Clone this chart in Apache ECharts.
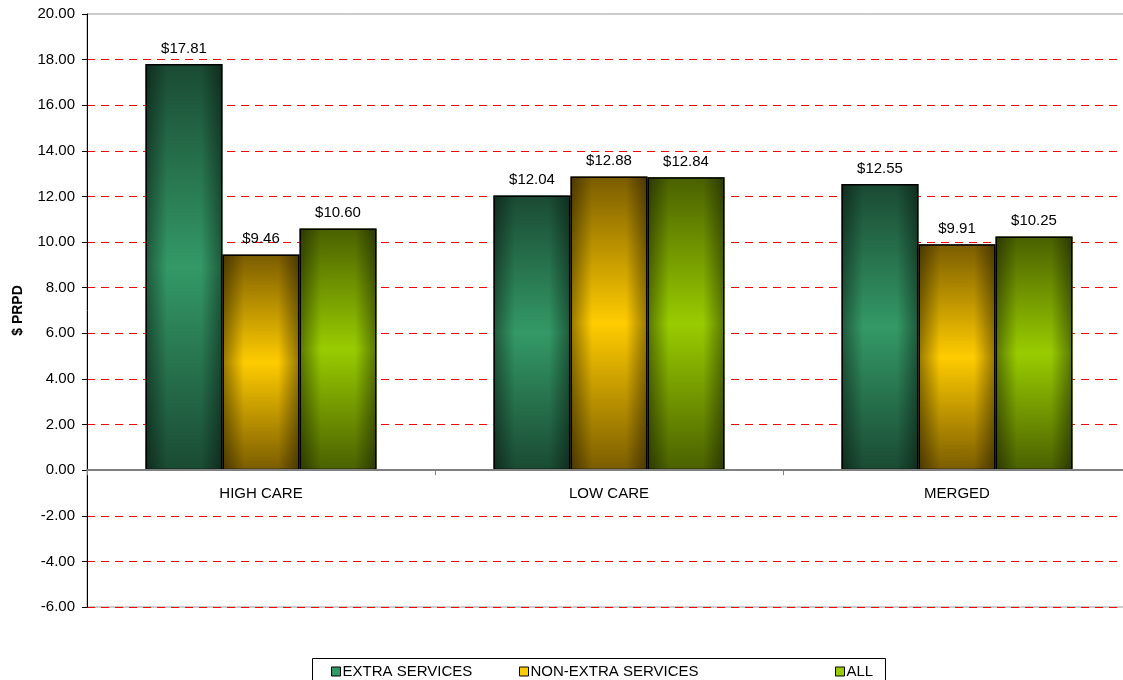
<!DOCTYPE html>
<html>
<head>
<meta charset="utf-8">
<title>$ PRPD by care type</title>
<script src="https://cdn.jsdelivr.net/npm/echarts@6/dist/echarts.min.js"></script>
<style>
  html, body { margin: 0; padding: 0; background: #fff; }
  #chart { width: 1123px; height: 680px; }
</style>
</head>
<body>
<div id="chart"></div>
<script>
// Care categories along the x axis
const categories = ['HIGH CARE', 'LOW CARE', 'MERGED'];

// Series names and values ($ per resident per day)
const seriesNames = ['EXTRA SERVICES', 'NON-EXTRA SERVICES', 'ALL'];
const extraServices = [17.81, 12.04, 12.55];
const nonExtraServices = [9.46, 12.88, 9.91];
const allServices = [10.60, 12.84, 10.25];

// Value axis range
const yMin = -6;
const yMax = 20;
const yStep = 2;

const seriesValues = [extraServices, nonExtraServices, allServices];

// Dark edge / bright centre colour pairs for each series
const palette = [
  { dark: '#1a4a33', light: '#339966' },
  { dark: '#7a5c00', light: '#ffcc00' },
  { dark: '#4a6000', light: '#99cc00' }
];

const font = 'Liberation Sans, Arial, sans-serif';
const fontSize = 15;

function verticalFill(p) {
  return new echarts.graphic.LinearGradient(0, 0, 0, 1, [
    { offset: 0, color: p.dark },
    { offset: 0.5, color: p.light },
    { offset: 1, color: p.dark }
  ]);
}

function sideShade() {
  return new echarts.graphic.LinearGradient(0, 0, 1, 0, [
    { offset: 0, color: 'rgba(0,0,0,0.42)' },
    { offset: 0.28, color: 'rgba(0,0,0,0)' },
    { offset: 0.72, color: 'rgba(0,0,0,0)' },
    { offset: 1, color: 'rgba(0,0,0,0.42)' }
  ]);
}

const barLayout = { barGap: '0%', barCategoryGap: '33.6%' };

// Base bars with value labels
const mainSeries = seriesValues.map((vals, i) => Object.assign({
  name: seriesNames[i],
  type: 'bar',
  xAxisIndex: 0,
  data: vals,
  z: 2,
  itemStyle: { color: verticalFill(palette[i]) },
  label: {
    show: true,
    position: 'top',
    distance: 8,
    color: '#000',
    fontFamily: font,
    fontSize: fontSize,
    formatter: p => '$' + p.value.toFixed(2)
  }
}, barLayout));

// Side shading drawn over the same bars on a twin category axis
const shadeSeries = seriesValues.map((vals, i) => Object.assign({
  name: seriesNames[i] + ' shade',
  type: 'bar',
  xAxisIndex: 1,
  data: vals,
  z: 3,
  silent: true,
  itemStyle: { color: sideShade(), borderColor: '#000', borderWidth: 1.5 }
}, barLayout));

const legendLefts = [326, 514, 830];
const legends = seriesNames.map((n, i) => ({
  data: [n],
  left: legendLefts[i],
  top: 659,
  orient: 'horizontal',
  itemWidth: 9,
  itemHeight: 9,
  icon: 'rect',
  itemStyle: { color: palette[i].light, borderColor: '#000', borderWidth: 1 },
  textStyle: { fontFamily: font, fontSize: fontSize, color: '#000', padding: [0, 0, 0, -3] },
  selectedMode: false
}));

const chart = echarts.init(document.getElementById('chart'), null, { renderer: 'canvas' });

chart.setOption({
  animation: false,
  backgroundColor: '#fff',
  grid: {
    left: 87,
    width: 1044,
    top: 14,
    height: 593,
    outerBoundsMode: 'none',
    show: true,
    borderColor: '#999',
    borderWidth: 1,
    backgroundColor: 'transparent'
  },
  legend: legends,
  graphic: [{
    type: 'rect',
    left: 310,
    top: 656,
    shape: { width: 573, height: 40 },
    style: { fill: 'none', stroke: '#000', lineWidth: 1 },
    z: 10
  }],
  xAxis: [{
    type: 'category',
    data: categories,
    axisLine: { onZero: true, lineStyle: { color: '#808080', width: 2 } },
    axisTick: { show: true, length: 5, lineStyle: { color: '#808080' } },
    // labels sit just below the zero line
    axisLabel: { color: '#000', fontFamily: font, fontSize: fontSize, margin: -121 },
    splitLine: { show: false },
    z: 5
  }, {
    type: 'category',
    data: categories,
    show: false
  }],
  yAxis: {
    type: 'value',
    min: yMin,
    max: yMax,
    interval: yStep,
    name: '$ PRPD',
    nameLocation: 'middle',
    nameGap: 62,
    nameTextStyle: { fontFamily: font, fontSize: 14, fontWeight: 'bold', color: '#000' },
    axisLine: { show: true, onZero: false, lineStyle: { color: '#000', width: 1 } },
    axisTick: { show: true, length: 5, lineStyle: { color: '#000' } },
    axisLabel: {
      color: '#000',
      fontFamily: font,
      fontSize: fontSize,
      margin: 12,
      formatter: v => v.toFixed(2)
    },
    splitLine: {
      show: true,
      showMaxLine: false,
      lineStyle: { color: '#ff0000', type: [8, 6], width: 1 }
    }
  },
  series: mainSeries.concat(shadeSeries)
});
</script>
</body>
</html>
